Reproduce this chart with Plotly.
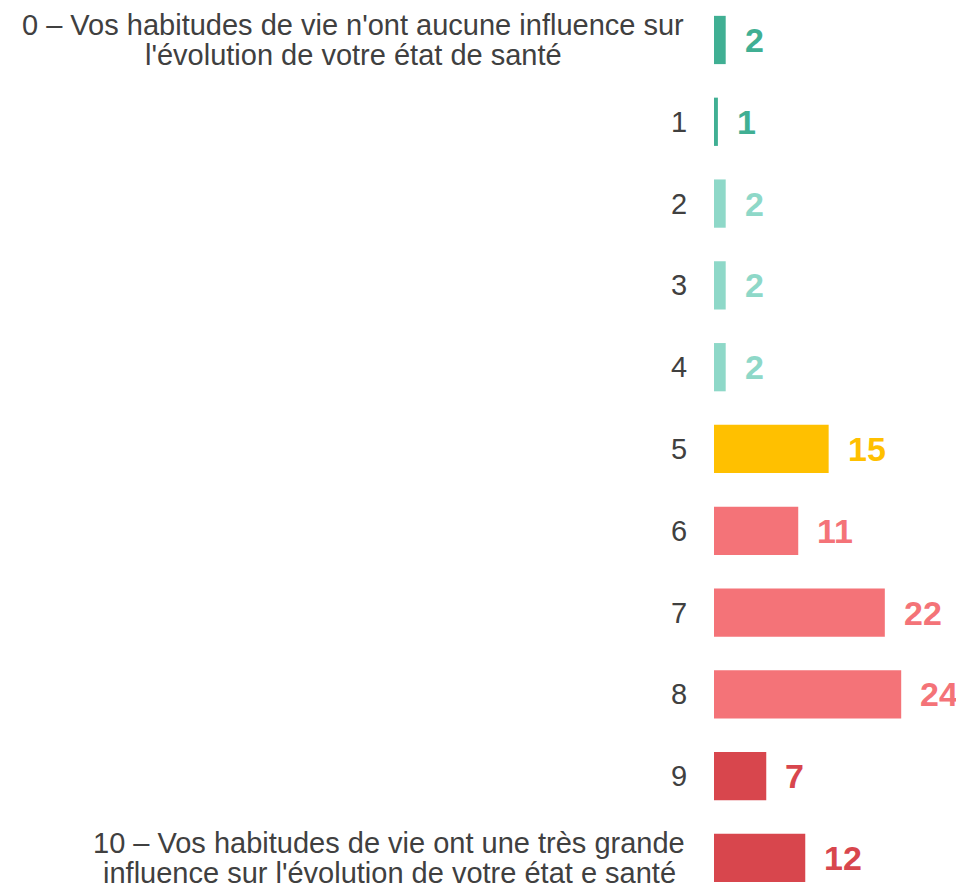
import plotly.graph_objects as go

categories = [
    ["0 – Vos habitudes de vie n'ont aucune influence sur", "l'évolution de votre état de santé"],
    ["1"], ["2"], ["3"], ["4"], ["5"], ["6"], ["7"], ["8"], ["9"],
    ["10 – Vos habitudes de vie ont une très grande", "influence sur l'évolution de votre état e santé"],
]
# Displayed (rounded) labels
labels = [2, 1, 2, 2, 2, 15, 11, 22, 24, 7, 12]
# Bar lengths (unrounded estimates)
bar_values = [1.5, 0.5, 1.5, 1.5, 1.5, 14.7, 10.8, 21.9, 24.0, 6.7, 11.7]
colors = ["#40AF93", "#40AF93", "#8ED8C8", "#8ED8C8", "#8ED8C8", "#FFC000",
          "#F47378", "#F47378", "#F47378", "#D8464D", "#D8464D"]

pos = list(range(len(categories)))
FONT = "Liberation Sans, Arial, sans-serif"

fig = go.Figure(go.Bar(
    x=bar_values, y=pos, orientation="h",
    marker=dict(color=colors, line=dict(width=0)),
    width=0.59, hoverinfo="skip",
))

annotations = []
for i, (lines, bv, lab, col) in enumerate(zip(categories, bar_values, labels, colors)):
    n = len(lines)
    for k, line in enumerate(lines):
        shift = (n - 1) * 15 - k * 30
        if n == 1:
            annotations.append(dict(
                x=0, xref="paper", y=i, yref="y", text=line, showarrow=False,
                xanchor="right", yanchor="middle", xshift=-25, yshift=shift,
                font=dict(family=FONT, size=29, color="#404040"),
            ))
        else:
            center_shift = -361 if i == 0 else -325
            annotations.append(dict(
                x=0, xref="paper", y=i, yref="y", text=line, showarrow=False,
                xanchor="center", yanchor="middle", xshift=center_shift, yshift=shift,
                font=dict(family=FONT, size=29, color="#404040"),
            ))
    annotations.append(dict(
        x=bv, xref="x", y=i, yref="y", text=f"<b>{lab}</b>", showarrow=False,
        xanchor="left", yanchor="middle", xshift=17,
        font=dict(family=FONT, size=34, color=col),
    ))

fig.update_layout(
    width=956, height=880,
    margin=dict(l=706, r=0, t=0, b=0),
    paper_bgcolor="white", plot_bgcolor="white",
    showlegend=False,
    xaxis=dict(range=[0, 250 / 7.8], visible=False, fixedrange=True),
    yaxis=dict(range=[10.367, -0.391], visible=False, fixedrange=True),
    annotations=annotations,
)

fig.write_html("out.html")
